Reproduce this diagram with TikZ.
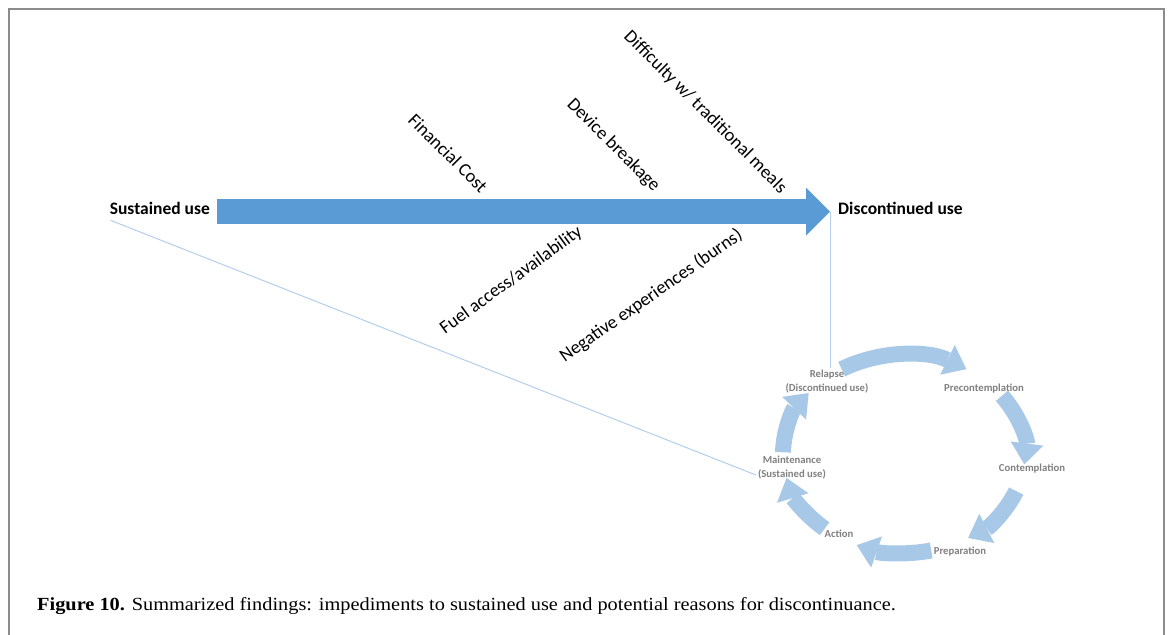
\documentclass[tikz,border=0pt]{standalone}
\usepackage{fontspec}
\setmainfont{Carlito}
\newfontfamily\capfont[FakeStretch=1.1]{Liberation Serif}
\usetikzlibrary{arrows.meta,positioning,calc}
\definecolor{mainblue}{RGB}{91,155,213}
\definecolor{cycblue}{RGB}{168,200,232}
\definecolor{linkblue}{RGB}{178,206,236}
\definecolor{framegray}{RGB}{140,140,140}
\definecolor{stagegray}{RGB}{128,128,128}
\tikzset{
    endlabel/.style={
        font=\fontsize{17.5}{21}\selectfont\bfseries,
        inner sep=3pt
    },
    cause/.style={
        font=\fontsize{18.5}{22}\selectfont,
        inner sep=1pt
    },
    stage/.style={
        font=\fontsize{10.7}{14}\selectfont\bfseries,
        text=stagegray,
        align=center,
        inner sep=2pt
    },
    mainflow/.style={line width=25pt, draw=mainblue, -{Triangle[length=24pt,width=48pt,line width=0pt]}},
    cycflow/.style={line width=16pt, draw=cycblue, -{Triangle[length=21pt,width=33pt,line width=0pt]}},
    link/.style={draw=linkblue, line width=1pt}
}

\begin{document}
\begin{tikzpicture}[x=1pt,y=-1pt]
    \useasboundingbox (0,0) rectangle (1171,635);
    \draw[framegray, line width=2.5pt] (9,660) -- (9,9) -- (1164,9) -- (1164,660);

    \node[endlabel, anchor=base east] (sustained) at (213,214) {Sustained use};
    \node[endlabel, anchor=base west] (discont) at (835,214) {Discontinued use};
    \coordinate (tip) at ([xshift=-5pt]discont.mid west);
    \draw[mainflow] ([xshift=4pt]sustained.mid east) -- (tip);

    \node[cause, rotate=-45, anchor=south east] (cost) at (480,196) {Financial Cost};
    \node[cause, rotate=-45, anchor=south east] (breakage) at (651,196) {Device breakage};
    \node[cause, rotate=-45, anchor=south east] (meals) at (778,198) {Difficulty w/ traditional meals};
    \node[cause, rotate=36, anchor=north east] (fuel) at (576,222) {Fuel access/availability};
    \node[cause, rotate=35, anchor=north east] (burns) at (736,225) {Negative experiences (burns)};

    \coordinate (cyc) at (904,454);
    \node[stage] (relapse) at (827,382) {Relapse\\(Discontinued use)};
    \node[stage] (precon) at (984,389) {Precontemplation};
    \node[stage] (contemp) at (1032,469) {Contemplation};
    \node[stage] (prep) at (960,552) {Preparation};
    \node[stage] (action) at (839,534) {Action};
    \node[stage] (maint) at (792,468) {Maintenance\\(Sustained use)};

    \draw[link] ([xshift=4pt,yshift=-3pt]sustained.south west) -- ([yshift=-7pt]maint.west);
    \draw[link] (tip) -- (tip |- relapse.north);

    \foreach \a/\b in {-121/-59, -36/6, 22/58, 77/113, 131/166, 181/218}
        \draw[cycflow] (cyc) ++(\a:121 and 99) arc[start angle=\a, end angle=\b, x radius=121, y radius=99];

    \node[anchor=base west, inner sep=0pt, font=\capfont\fontsize{18.5}{22}\selectfont] (caption) at (37,610)
        {\textbf{Figure 10.} Summarized findings: impediments to sustained use and potential reasons for discontinuance.};
\end{tikzpicture}
\end{document}
